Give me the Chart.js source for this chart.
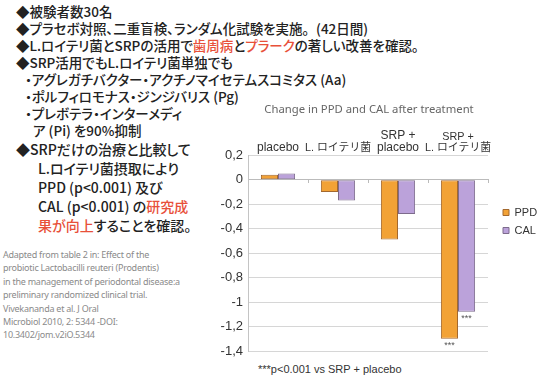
<!DOCTYPE html><html lang="ja"><head><meta charset="utf-8">
<title>Change in PPD and CAL after treatment</title>
<script src="https://cdn.jsdelivr.net/npm/chart.js"></script>
<style>
  html, body { margin: 0; padding: 0; background: #fff; }
  body { width: 538px; height: 376px; position: relative; overflow: hidden;
         font-family: "Noto Sans CJK JP", "Noto Sans", sans-serif; color: #222; }
  .upper { position: absolute; left: 16px; top: 3px; font-size: 13.5px; line-height: 17px; font-weight: 500; white-space: nowrap; font-feature-settings: "palt"; }
  .lower { position: absolute; left: 16px; top: 140px; font-size: 14px; line-height: 19px; font-weight: 500; white-space: nowrap; font-feature-settings: "palt"; }
  .nopalt { font-feature-settings: normal; }
  .sub { padding-left: 9px; }
  .sub2 { padding-left: 17px; }
  .ind { padding-left: 22px; }
  .red { color: #e8503a; }
  .cite { position: absolute; left: 3px; top: 248px; font-family: "Noto Sans", sans-serif; font-size: 9px; letter-spacing: -0.25px; line-height: 13.4px; color: #8a8a8a; white-space: nowrap; }
  .note { position: absolute; left: 258px; top: 363px; font-family: "Liberation Sans", sans-serif; font-size: 11px; color: #333; white-space: nowrap; }
  #box { position: absolute; left: 200px; top: 92px; width: 338px; height: 284px; }
</style>
</head>
<body>
<div class="upper">
  <div>◆被験者数30名</div>
  <div>◆プラセボ対照、二重盲検、ランダム化試験を実施<span class="nopalt">。</span>(42日間)</div>
  <div>◆L.ロイテリ菌とSRPの活用で<span class="red">歯周病</span>と<span class="red">プラーク</span>の著しい改善を確認。</div>
  <div>◆SRP活用でもL.ロイテリ菌単独でも</div>
  <div class="sub">・アグレガチバクター・アクチノマイセテムスコミタス (Aa)</div>
  <div class="sub">・ポルフィロモナス・ジンジバリス (Pg)</div>
  <div class="sub">・プレボテラ・インターメディ</div>
  <div class="sub2">ア (Pi) を90%抑制</div>
</div>
<div class="lower">
  <div>◆SRPだけの治療と比較して</div>
  <div class="ind">L.ロイテリ菌摂取により</div>
  <div class="ind">PPD (p&lt;0.001) 及び</div>
  <div class="ind">CAL (p&lt;0.001) の<span class="red">研究成</span></div>
  <div class="ind"><span class="red">果が向上</span>することを確認。</div>
</div>
<div class="cite">
  <div>Adapted from table 2 in: Effect of the</div>
  <div>probiotic Lactobacilli reuteri (Prodentis)</div>
  <div>in the management of periodontal disease:a</div>
  <div>preliminary randomized clinical trial.</div>
  <div>Vivekananda et al. J Oral</div>
  <div>Microbiol 2010, 2: 5344 -DOI:</div>
  <div>10.3402/jom.v2iO.5344</div>
</div>
<div class="note">***p&lt;0.001 vs SRP + placebo</div>
<div id="box"><canvas id="chart"></canvas></div>

<script>
  // データ
  const groups = ['placebo', 'L. ロイテリ菌', ['SRP +', 'placebo'], ['SRP +', 'L. ロイテリ菌']];
  const ppdValues = [0.04, -0.10, -0.49, -1.30];
  const calValues = [0.05, -0.17, -0.28, -1.08];
  const seriesNames = ['PPD', 'CAL'];
  const starMarks = ['', '', '', '***']; // SRP + placebo との比較

  const chartFont = '"Liberation Sans", "Noto Sans CJK JP", sans-serif';

  // *** を棒の下に描く
  const starPlugin = {
    id: 'stars',
    afterDatasetsDraw(chart) {
      const ctx = chart.ctx;
      ctx.save();
      ctx.font = '9px ' + chartFont;
      ctx.fillStyle = '#555';
      ctx.textAlign = 'center';
      ctx.textBaseline = 'middle';
      chart.data.datasets.forEach((ds, i) => {
        const meta = chart.getDatasetMeta(i);
        meta.data.forEach((bar, j) => {
          if (starMarks[j]) ctx.fillText(starMarks[j], bar.x, bar.y + 7);
        });
      });
      ctx.restore();
    }
  };

  // 凡例をグラフから少し離す
  const legendShift = {
    id: 'legendShift',
    afterLayout(chart) {
      chart.legend.left += 8;
      chart.legend.right += 8;
    }
  };

  const ctx = document.getElementById('chart').getContext('2d');
  const chart = new Chart(ctx, {
    type: 'bar',
    data: {
      labels: groups,
      datasets: [{
        label: seriesNames[0],
        data: ppdValues,
        backgroundColor: '#f2a236',
        borderColor: '#a3682e',
        borderWidth: 1,
        borderSkipped: false
      }, {
        label: seriesNames[1],
        data: calValues,
        backgroundColor: '#bba2da',
        borderColor: '#7d6b8c',
        borderWidth: 1,
        borderSkipped: false
      }]
    },
    options: {
      responsive: true,
      maintainAspectRatio: false,
      animation: false,
      events: [],
      layout: { padding: { left: 0, right: 0, top: 0, bottom: 25 } },
      categoryPercentage: 0.57,
      barPercentage: 1,
      plugins: {
        title: {
          display: true,
          text: 'Change in PPD and CAL after treatment',
          color: '#666',
          font: { family: '"Noto Sans", sans-serif', size: 11.3, weight: 'normal' },
          padding: { top: 11, bottom: 0 }
        },
        legend: {
          position: 'right',
          maxWidth: 50,
          labels: {
            boxWidth: 6,
            boxHeight: 6,
            padding: 7,
            color: '#333',
            font: { family: chartFont, size: 11 }
          }
        },
        tooltip: { enabled: false }
      },
      scales: {
        x: {
          position: 'top',
          grid: { display: false, drawTicks: false },
          border: { display: false },
          ticks: { color: '#333', padding: 1, maxRotation: 0, minRotation: 0, autoSkip: false,
                   // 日本語を含むラベルは少し小さく
                   font: (c) => ({ family: chartFont, size: (c.index === 1 || c.index === 3) ? 10.8 : 12, lineHeight: 1.05 }) },
          afterFit(s) { s.height = 38.6; }
        },
        x2: {
          type: 'category',
          labels: groups,
          position: { y: 0 },
          offset: true,
          grid: { offset: true, drawOnChartArea: false, tickLength: 3, color: '#bbb' },
          border: { display: true, color: '#bbb' },
          ticks: { display: false }
        },
        y: {
          min: -1.4,
          max: 0.2,
          grid: { color: '#d6d6d6', drawTicks: false },
          border: { display: true, color: '#c4c4c4' },
          ticks: {
            stepSize: 0.2,
            padding: 5,
            color: '#333',
            font: { family: chartFont, size: 13 },
            callback: (v) => {
              const r = Math.round(v * 10) / 10;
              return r === 0 ? '0' : String(r).replace('.', ',');
            }
          },
          afterFit(s) { s.width = 48; }
        }
      }
    },
    plugins: [starPlugin, legendShift]
  });
</script>
</body></html>
